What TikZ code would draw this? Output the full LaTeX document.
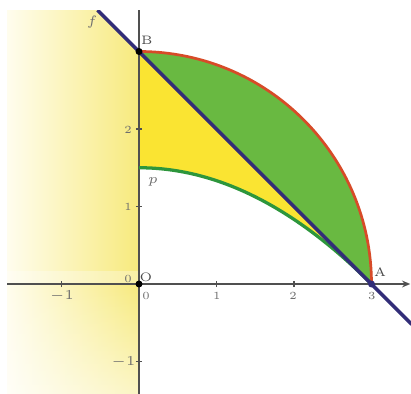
\documentclass[tikz,border=0pt]{standalone}
\usetikzlibrary{arrows.meta,fadings}
\definecolor{yel}{RGB}{250,228,50}
\definecolor{grn}{RGB}{105,185,65}
\definecolor{redc}{RGB}{215,75,40}
\definecolor{curvegreen}{RGB}{45,150,60}
\definecolor{linec}{RGB}{50,45,120}
\definecolor{axisc}{RGB}{80,80,80}
\definecolor{lblc}{RGB}{110,110,110}
\definecolor{paleL}{RGB}{255,253,238}
\definecolor{paleM}{RGB}{253,246,185}
\definecolor{paleR}{RGB}{247,234,125}
\tikzset{
  axisline/.style={axisc, line width=0.6pt},
  tickmark/.style={axisc, line width=0.4pt},
  ticklbl/.style={lblc, font=\fontsize{4}{5}\selectfont, inner sep=0pt},
  ptlbl/.style={black!70, font=\fontsize{4.5}{5}\selectfont, inner sep=0pt},
  ptdot/.style={fill=black},
}
\begin{document}
\begin{tikzpicture}[x=1cm,y=1cm]
\useasboundingbox (-1.7935,-1.419) rectangle (3.5097,3.6645);
\fill[white] (-1.7935,-1.419) rectangle (3.5097,3.6645);
\begin{scope}
\clip (-1.703,-1.419) rectangle (3.5097,3.535);
% left gradient region
\shade[left color=paleL, middle color=paleM, right color=paleR]
  (-1.703,-1.419) -- (-1.703,3.535) -- (-0.535,3.535) -- (0,3) -- (0,-1.419) -- cycle;
% fade of the gradient towards the bottom
\fill[white, opacity=0.55, path fading=north] (-1.703,-1.419) rectangle (0,0);
% faint band above x-axis
\fill[white, opacity=0.3] (-1.703,0) rectangle (3.51,0.17);
% named points
\coordinate (O) at (0,0);
\coordinate (A) at (3,0);
\coordinate (B) at (0,3);
\coordinate (Ltop) at (-0.535,3.535);
\coordinate (Lbot) at (3.52,-0.52);
% green region (circle minus line)
\fill[grn] (B) arc[start angle=90, end angle=0, radius=3] -- cycle;
% yellow region (line minus parabola)
\fill[yel] (B) -- (A) -- plot[domain=3:0, samples=80] (\x,{(9-\x*\x)/6}) -- cycle;
% axes
\draw[axisline, -{Stealth[length=3pt,width=2.5pt]}] (-1.703,0) -- (3.50,0);
\draw[axisline] (0,-1.419) -- (0,3.535);
% ticks
\foreach \t in {-1,1,2,3} \draw[tickmark] (\t,-0.04) -- (\t,0.04);
\foreach \t in {-1,1,2,3} \draw[tickmark] (-0.04,\t) -- (0.04,\t);
% curves
\draw[redc, line width=1pt] (B) arc[start angle=90, end angle=0, radius=3];
\draw[curvegreen, line width=1.2pt] plot[domain=0:3, samples=80] (\x,{(9-\x*\x)/6});
\draw[linec, line width=1.3pt] (Ltop) -- (Lbot);
\end{scope}
% points
\fill[ptdot] (O) circle[radius=0.045];
\fill[ptdot] (B) circle[radius=0.045];
\fill[linec] (A) circle[radius=0.045];
% tick labels
\node[ticklbl] (tx1) at (-0.994,-0.155) {$-1$};
\node[ticklbl] (tx0) at (0.09,-0.155) {0};
\node[ticklbl] (tx2) at (1.006,-0.155) {1};
\node[ticklbl] (tx3) at (1.987,-0.155) {2};
\node[ticklbl] (tx4) at (3.006,-0.155) {3};
\node[ticklbl] (ty2) at (-0.142,1.987) {2};
\node[ticklbl] (ty1) at (-0.142,0.994) {1};
\node[ticklbl] (ty0) at (-0.142,0.065) {0};
\node[ticklbl] (tym) at (-0.2,-1.006) {$-1$};
% point and curve labels
\node[ptlbl] (lB) at (0.103,3.148) {B};
\node[ptlbl] (lO) at (0.09,0.09) {O};
\node[ptlbl] (lA) at (3.11,0.155) {A};
\node[ptlbl, lblc] (lf) at (-0.606,3.38) {$f$};
\node[ptlbl, lblc] (lp) at (0.18,1.316) {$p$};
\end{tikzpicture}
\end{document}
